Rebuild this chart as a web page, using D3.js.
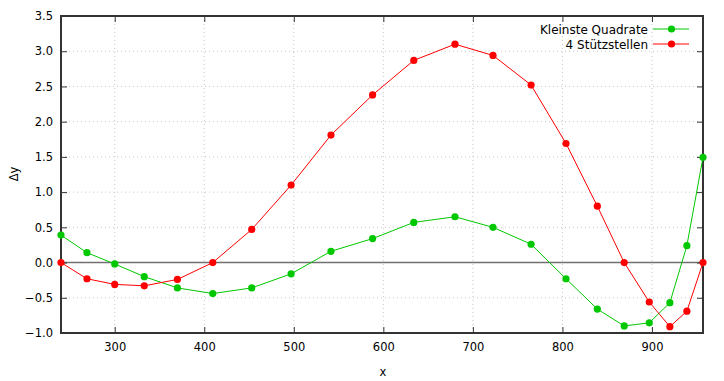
<!DOCTYPE html>
<html>
<head>
<meta charset="utf-8">
<script src="https://cdn.jsdelivr.net/npm/d3@7"></script>
<style>
  body { margin: 0; background: #fff; }
  text { font-family: "DejaVu Sans", sans-serif; font-size: 11.5px; fill: #000; }
</style>
</head>
<body>
<div id="chart"></div>
<script>
// data
const xs = [240, 269, 300, 333, 370, 409.5, 453, 497, 541.5, 588, 634, 680, 722.5, 765, 804, 839, 869, 897, 920, 939, 957];
const leastSquares = [0.39, 0.14, -0.02, -0.20, -0.36, -0.44, -0.36, -0.16, 0.16, 0.34, 0.57, 0.65, 0.50, 0.26, -0.23, -0.66, -0.90, -0.855, -0.57, 0.24, 1.495];
const fourNodes = [0, -0.23, -0.31, -0.33, -0.24, 0, 0.47, 1.10, 1.81, 2.38, 2.87, 3.10, 2.94, 2.52, 1.69, 0.80, 0, -0.56, -0.91, -0.69, 0];
const xTicks = [300, 400, 500, 600, 700, 800, 900];
const yTicks = [-1.0, -0.5, 0.0, 0.5, 1.0, 1.5, 2.0, 2.5, 3.0, 3.5];
const seriesNames = ["Kleinste Quadrate", "4 Stützstellen"];
const seriesColors = ["#00c800", "#ff0000"];

const W = 724, H = 381;
const margin = { top: 16, right: 21, bottom: 48, left: 61 };
const width = W - margin.left - margin.right;
const height = H - margin.top - margin.bottom;

const svg = d3.select("#chart")
    .append("svg")
    .attr("width", W)
    .attr("height", H);

const g = svg.append("g")
    .attr("transform", `translate(${margin.left},${margin.top})`);

const x = d3.scaleLinear().domain([240, 957]).range([0, width]);
const y = d3.scaleLinear().domain([-1, 3.5]).range([height, 0]);

// grid
g.append("g")
    .selectAll("line")
    .data(xTicks)
    .join("line")
    .attr("x1", d => x(d)).attr("x2", d => x(d))
    .attr("y1", 0).attr("y2", height)
    .attr("stroke", "#c8c8c8")
    .attr("stroke-dasharray", "1,3");

g.append("g")
    .selectAll("line")
    .data(yTicks.filter(d => d !== 0 && d !== -1 && d !== 3.5))
    .join("line")
    .attr("x1", 0).attr("x2", width)
    .attr("y1", d => y(d)).attr("y2", d => y(d))
    .attr("stroke", "#c8c8c8")
    .attr("stroke-dasharray", "1,3");

// zero line
g.append("line")
    .attr("x1", 0).attr("x2", width)
    .attr("y1", y(0)).attr("y2", y(0))
    .attr("stroke", "#707070")
    .attr("stroke-width", 1.5);

// axes: ticks inward, labels outside
const axisL = g.append("g")
    .call(d3.axisLeft(y).tickValues(yTicks).tickFormat(d3.format(".1f")).tickSize(-6).tickPadding(8));
const axisR = g.append("g")
    .attr("transform", `translate(${width},0)`)
    .call(d3.axisRight(y).tickValues(yTicks).tickFormat("").tickSize(-6));
const axisB = g.append("g")
    .attr("transform", `translate(0,${height})`)
    .call(d3.axisBottom(x).tickValues(xTicks).tickSize(-6).tickPadding(10));
const axisT = g.append("g")
    .call(d3.axisTop(x).tickValues(xTicks).tickFormat("").tickSize(-6));

[axisL, axisR, axisB, axisT].forEach(a => {
    a.select(".domain").remove();
    a.selectAll(".tick line").attr("stroke", "#333").attr("stroke-width", 1);
    a.selectAll("text").style("font-family", "DejaVu Sans").style("font-size", "11.5px").attr("fill", "#000");
});

// frame
g.append("rect")
    .attr("x", 0).attr("y", 0)
    .attr("width", width).attr("height", height)
    .attr("fill", "none")
    .attr("stroke", "#333")
    .attr("stroke-width", 2);

// series
const series = [leastSquares, fourNodes];
const line = d3.line().x((d, i) => x(xs[i])).y(d => y(d));

series.forEach((vals, k) => {
    g.append("path")
        .datum(vals)
        .attr("d", line)
        .attr("fill", "none")
        .attr("stroke", seriesColors[k])
        .attr("stroke-width", 1);
    g.append("g")
        .selectAll("circle")
        .data(vals)
        .join("circle")
        .attr("cx", (d, i) => x(xs[i]))
        .attr("cy", d => y(d))
        .attr("r", 3.6)
        .attr("fill", seriesColors[k]);
});

// axis titles
svg.append("text")
    .attr("x", margin.left + x(600) - 0.5)
    .attr("y", 376)
    .attr("text-anchor", "middle")
    .text("x");

svg.append("text")
    .attr("transform", "translate(18,174) rotate(-90)")
    .attr("text-anchor", "middle")
    .text("Δy");

// legend
const legend = svg.append("g").attr("transform", "translate(648,29)");
seriesNames.forEach((name, k) => {
    const row = legend.append("g").attr("transform", `translate(0,${k * 15})`);
    row.append("text")
        .attr("x", 0).attr("y", 4.5)
        .attr("text-anchor", "end")
        .style("font-size", "12px")
        .text(name);
    row.append("line")
        .attr("x1", 5).attr("x2", 41)
        .attr("y1", 0).attr("y2", 0)
        .attr("stroke", seriesColors[k])
        .attr("stroke-width", 1);
    row.append("circle")
        .attr("cx", 23.5).attr("cy", 0)
        .attr("r", 3.6)
        .attr("fill", seriesColors[k]);
});
</script>
</body>
</html>
